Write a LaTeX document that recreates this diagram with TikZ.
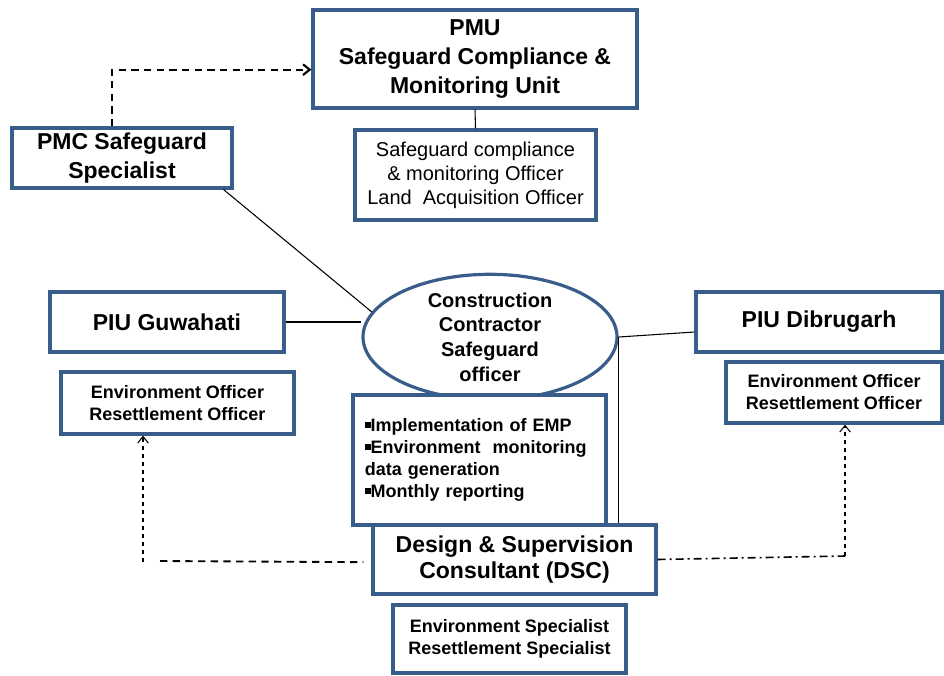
\documentclass[tikz,border=0pt]{standalone}
\usepackage{fontspec}
\setmainfont{Liberation Sans}
\usetikzlibrary{shapes.geometric, arrows.meta, positioning}
\definecolor{boxblue}{RGB}{56,93,138}
\newcommand{\sqbul}{\rule[0.2em]{0.32em}{0.32em}}

\begin{document}
\begin{tikzpicture}[x=0.75pt, y=-0.75pt]
		\tikzstyle{Box} = [rectangle, draw=boxblue, line width=2.4pt, fill=white, align=center, inner sep=0pt, font=\bfseries\fontsize{17.25}{21.5}\selectfont]
		\tikzstyle{SubBox} = [rectangle, draw=boxblue, line width=2.4pt, fill=white, align=center, inner sep=0pt, font=\bfseries\fontsize{13.5}{16.5}\selectfont]
		\tikzstyle{link} = [black, line width=0.8pt]
		\tikzstyle{dasharrow} = [black, -{Straight Barb[length=5pt, width=8pt]}]
		
		\useasboundingbox (0,0) rectangle (944,675);
		
		% top row
		\node (pmu) [Box, minimum width=243pt, minimum height=73.5pt, font=\bfseries\fontsize{17.25}{22}\selectfont] at (475,59) {PMU\\Safeguard Compliance \&\\Monitoring Unit};
		\node (pmuSub) [Box, minimum width=180.75pt, minimum height=67.5pt, font=\fontsize{15}{18}\selectfont] at (475.5,175) {Safeguard compliance\\\& monitoring Officer\\Land\ \ Acquisition Officer};
		\node (pmc) [Box, minimum width=165pt, minimum height=45pt] at (122,158) {PMC Safeguard\\Specialist};
		
		% middle row
		\node (ccso) [ellipse, draw=boxblue, line width=2.4pt, fill=white, inner sep=0pt, minimum width=190.5pt, minimum height=79.5pt, align=center, font=\bfseries\fontsize{15}{18.5}\selectfont] at (490,337) {Construction\\Contractor\\Safeguard\\officer};
		\node (piuG) [Box, minimum width=175.5pt, minimum height=45pt] at (167,322) {PIU Guwahati};
		\node (envG) [SubBox, minimum width=174.75pt, minimum height=46.5pt] at (177.5,403) {Environment Officer\\Resettlement Officer};
		\node (piuD) [Box, minimum width=184.5pt, minimum height=45pt] at (819,322) {PIU Dibrugarh};
		\node (envD) [SubBox, minimum width=162pt, minimum height=45.75pt] at (834,392.5) {Environment Officer\\Resettlement Officer};
		
		% bottom row
		\node (tasks) [SubBox, minimum width=189.75pt, minimum height=97.5pt, align=left, text width=172pt] at (479.5,460) {\sqbul Implementation of EMP\\\sqbul Environment\ \ monitoring\\data generation\\\sqbul Monthly reporting};
		\node (dsc) [Box, minimum width=212.25pt, minimum height=51.75pt, font=\bfseries\fontsize{17.25}{19.5}\selectfont] at (514.5,559.5) {Design \& Supervision\\Consultant (DSC)};
		\node (dscSub) [SubBox, minimum width=174.75pt, minimum height=51pt] at (509.5,639) {Environment Specialist\\Resettlement Specialist};
		
		\coordinate (gL) at (143,562);
		\coordinate (gH) at (160,561);
		\coordinate (dR) at (845,556);
		
		% links
		\draw [link] (pmu.south) -- (pmuSub.north);
		\draw [link] ([xshift=-7.5pt]pmc.south east) -- (ccso.168);
		\draw [link] (piuG.east) -- (piuG.east -| ccso.west);
		\draw [link] (ccso.east) -- ([yshift=-7.5pt]piuD.west);
		\draw [link] (ccso.east) -- (ccso.east |- dsc.north);
		
		\draw [dasharrow, line width=1.6pt, dash pattern=on 5.5pt off 4pt] ([xshift=-7.5pt]pmc.north) |- ([yshift=-8pt]pmu.west);
		\draw [dasharrow, line width=0.8pt, dash pattern=on 3pt off 3pt] (gL) -- (gL |- envG.south);
		\draw [black, line width=1.4pt, dash pattern=on 5.5pt off 4pt] (gH) -- ([xshift=-6pt, yshift=-2pt]dsc.west);
		\draw [black, line width=1.2pt, dash pattern=on 6pt off 3pt on 1.5pt off 3pt] (dsc.east) -- (dR);
		\draw [dasharrow, line width=0.8pt, dash pattern=on 3pt off 3pt] (dR) -- (dR |- envD.south);
\end{tikzpicture}
\end{document}
